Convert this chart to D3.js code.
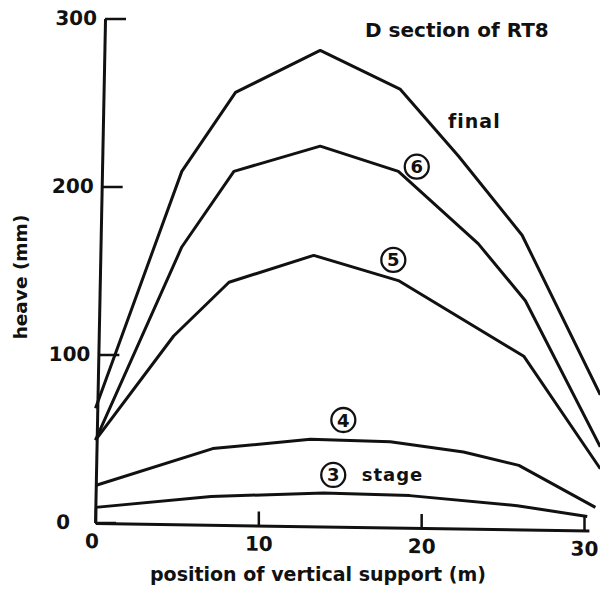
<!DOCTYPE html>
<html>
<head>
<meta charset="utf-8">
<script src="https://cdn.jsdelivr.net/npm/d3@7/dist/d3.min.js"></script>
<style>
  html, body { margin: 0; padding: 0; background: #fff; }
  svg { display: block; }
  text { font-family: "DejaVu Sans", sans-serif; font-weight: bold; fill: #111; }
</style>
</head>
<body>
<svg id="chart" width="600" height="595"></svg>
<script>
// Heave along the D section of RT8, one curve per construction stage.
// Position of vertical support (m)
const finalX = [0, 5.3, 8.6, 13.8, 18.7, 22.3, 26.2, 31];
const finalY = [68, 209, 256, 281, 258, 218, 171, 76];

const stage6X = [0, 5.3, 8.5, 13.8, 18.6, 23.5, 26.4, 31];
const stage6Y = [49, 164, 209, 224, 209, 166, 132, 45];

const stage5X = [0, 4.8, 8.2, 13.4, 18.6, 26.3, 31];
const stage5Y = [49, 111, 143, 159, 144, 99, 32];

const stage4X = [0, 7.2, 13.2, 18.1, 22.6, 26.0, 30.7];
const stage4Y = [22, 44, 49.5, 48, 42, 34, 9];

const stage3X = [0, 7.1, 14.0, 19.3, 25.9, 30.2];
const stage3Y = [9, 15.5, 17.5, 16, 10, 3.6];

const xTicks = [0, 10, 20, 30];
const yTicks = [0, 100, 200, 300];

const svg = d3.select("#chart");
svg.append("rect").attr("width", 600).attr("height", 595).attr("fill", "#fff");

const x = d3.scaleLinear().domain([0, 30]).range([95.5, 584]);
const y = d3.scaleLinear().domain([0, 300]).range([522.5, 18.5]);

// Hand-ruled axes lean very slightly
const yAxisG = svg.append("g")
  .attr("transform", "translate(105.4,0) skewX(-1.135)")
  .call(d3.axisLeft(y).tickValues(yTicks).tickFormat(d3.format("d"))
    .tickSizeInner(-21).tickSizeOuter(0).tickPadding(8));

const xAxisScale = x.copy().domain([0, 30.3]).range([x(0), x(30.3)]);
const xAxisG = svg.append("g")
  .attr("transform", "translate(0,521.5) skewY(0.88)")
  .call(d3.axisBottom(xAxisScale).tickValues(xTicks).tickFormat(d3.format("d"))
    .tickSizeInner(-14).tickSizeOuter(0).tickPadding(11));

[yAxisG, xAxisG].forEach(g => {
  g.attr("font-family", null).attr("font-size", null);
  g.select(".domain").attr("stroke", "#111").attr("stroke-width", 3);
  g.selectAll(".tick line").attr("stroke", "#111").attr("stroke-width", 2.5);
  g.selectAll(".tick text").attr("font-size", 20).attr("fill", "#111");
});
yAxisG.selectAll(".tick text").filter(d => d === 0).attr("dx", -17);
xAxisG.selectAll(".tick text").filter(d => d === 0).attr("dx", -4);

// Curves
const line = d3.line().x(d => x(d[0])).y(d => y(d[1]));
const series = [
  [finalX, finalY],
  [stage6X, stage6Y],
  [stage5X, stage5Y],
  [stage4X, stage4Y],
  [stage3X, stage3Y]
];
svg.append("g").selectAll("path")
  .data(series.map(([xs, ys]) => xs.map((v, i) => [v, ys[i]])))
  .join("path")
  .attr("d", line)
  .attr("fill", "none")
  .attr("stroke", "#111")
  .attr("stroke-width", 3)
  .attr("stroke-linejoin", "round");

// Curve labels
svg.append("text").attr("x", x(21.65)).attr("y", y(234.8))
  .attr("font-size", 19).attr("letter-spacing", 1).text("final");

const circled = [
  { n: "6", cx: 19.73, cy: 211.8 },
  { n: "5", cx: 18.29, cy: 156.3 },
  { n: "4", cx: 15.22, cy: 61.0 },
  { n: "3", cx: 14.6, cy: 28.3 }
];
const cg = svg.append("g").selectAll("g").data(circled).join("g")
  .attr("transform", d => `translate(${x(d.cx)},${y(d.cy)})`);
cg.append("circle").attr("r", 12).attr("fill", "none")
  .attr("stroke", "#111").attr("stroke-width", 2.3);
cg.append("text").attr("text-anchor", "middle").attr("dy", "0.36em")
  .attr("font-size", 18).text(d => d.n);

svg.append("text").attr("x", x(16.35)).attr("y", y(24.7))
  .attr("font-size", 18).attr("letter-spacing", 1).text("stage");

// Title and axis titles
svg.append("text").attr("x", 365).attr("y", 37)
  .attr("font-size", 20).text("D section of RT8");

svg.append("text").attr("x", 150).attr("y", 581)
  .attr("font-size", 19).text("position of vertical support (m)");

svg.append("text").attr("transform", "translate(27,277) rotate(-90)")
  .attr("text-anchor", "middle").attr("font-size", 18.5).text("heave (mm)");
</script>
</body>
</html>
